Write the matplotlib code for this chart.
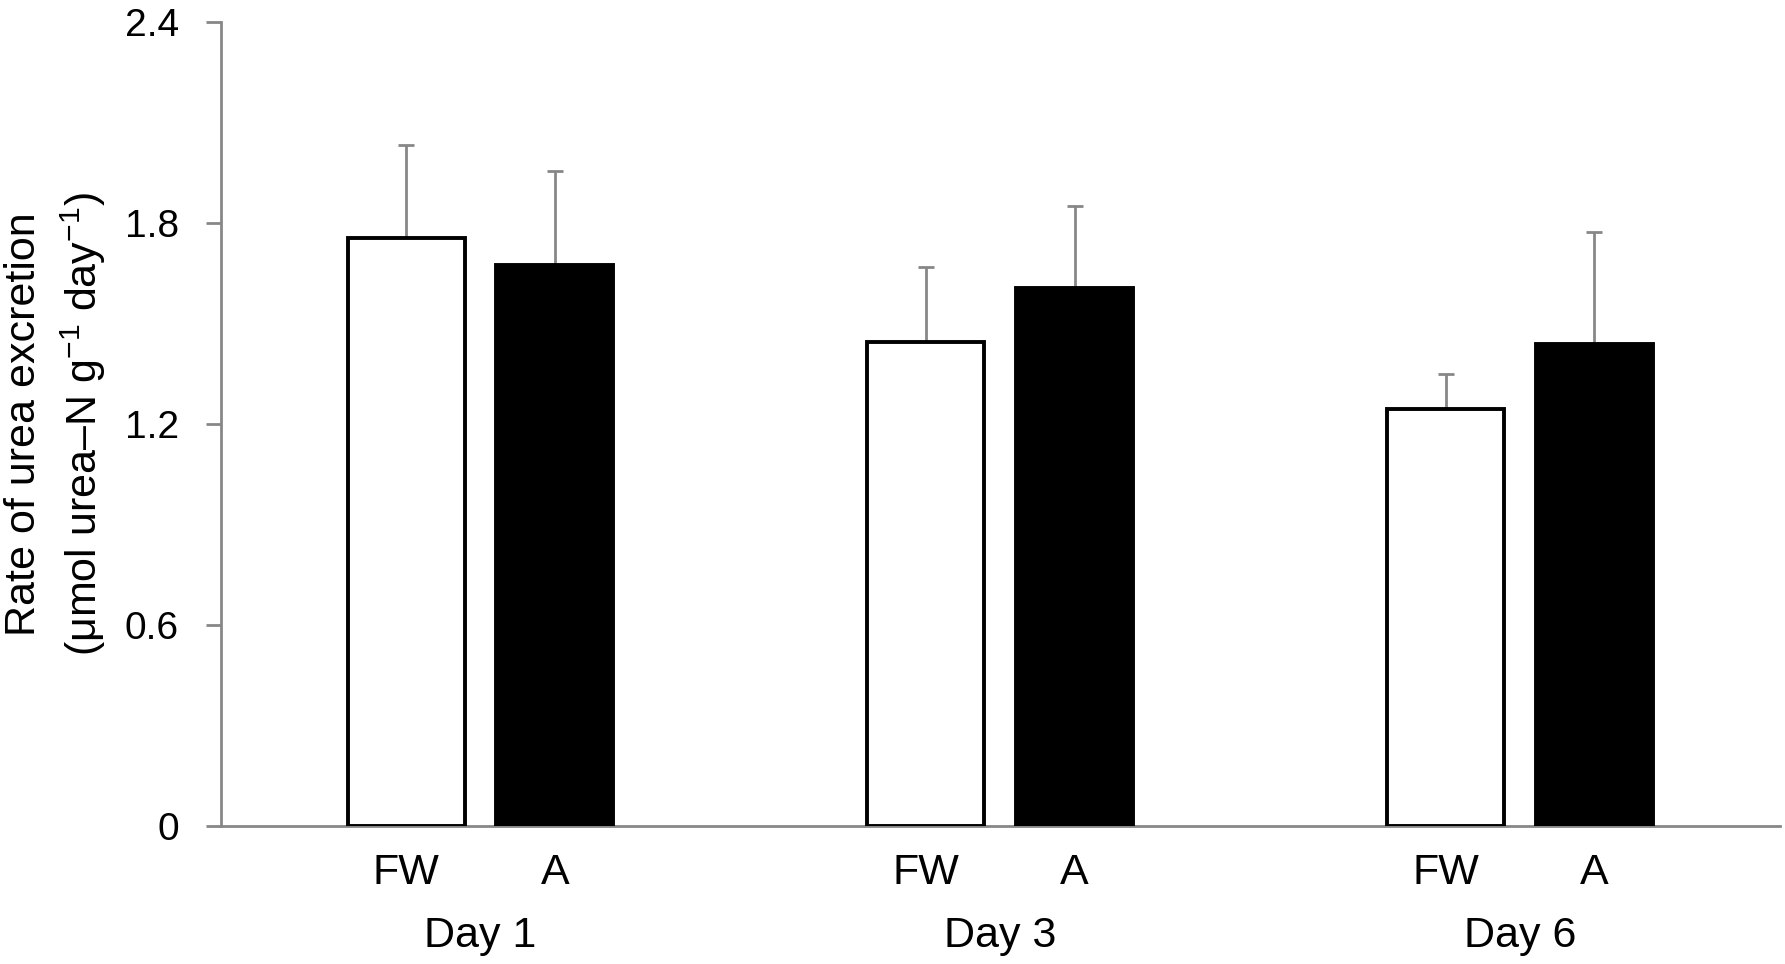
import matplotlib
matplotlib.use("Agg")
import matplotlib.pyplot as plt
from matplotlib.transforms import blended_transform_factory
import numpy as np

# ---- data ----
days = ["Day 1", "Day 3", "Day 6"]
groups = ["FW", "A"]
fw_mean = [1.755, 1.444, 1.245]
fw_err = [0.276, 0.223, 0.105]
a_mean = [1.673, 1.605, 1.439]
a_err = [0.282, 0.244, 0.333]
yticks = [0, 0.6, 1.2, 1.8, 2.4]
ytick_labels = ["0", "0.6", "1.2", "1.8", "2.4"]

plt.rcParams['mathtext.fontset'] = 'custom'
plt.rcParams['mathtext.rm'] = 'Liberation Sans'
plt.rcParams['mathtext.it'] = 'Liberation Sans'

fig = plt.figure(figsize=(17.85, 9.64), dpi=100)
ax = fig.add_axes([0.1236, 0.1432, 0.8735, 0.8343])

x = np.arange(len(days))
w = 0.225
off = 0.143
grey = "#878787"

ax.bar(x - off, fw_mean, width=w, color="white", edgecolor="black", linewidth=2.8, zorder=3)
ax.bar(x + off, a_mean, width=w, color="black", edgecolor="black", linewidth=2.8, zorder=3)
ax.errorbar(x - off, fw_mean, yerr=[np.zeros(3), fw_err], fmt="none", ecolor=grey,
            elinewidth=2.0, capsize=6, capthick=2.0, zorder=2)
ax.errorbar(x + off, a_mean, yerr=[np.zeros(3), a_err], fmt="none", ecolor=grey,
            elinewidth=2.0, capsize=6, capthick=2.0, zorder=2)

ax.set_xlim(-0.5, 2.5)
ax.set_ylim(0, 2.4)
for s in ["top", "right"]:
    ax.spines[s].set_visible(False)
for s in ["left", "bottom"]:
    ax.spines[s].set_color(grey)
    ax.spines[s].set_linewidth(2.0)

ax.set_yticks(yticks)
ax.set_yticklabels(ytick_labels, fontsize=28, family="Liberation Sans")
ax.tick_params(axis="y", length=11, width=2.0, color=grey, pad=19)

pos = []
labs = []
for i in range(len(days)):
    pos += [x[i] - off, x[i] + off]
    labs += groups
ax.set_xticks(pos)
ax.set_xticklabels(labs, fontsize=31, family="Liberation Sans")
ax.tick_params(axis="x", length=0, pad=19.5)

tr = blended_transform_factory(ax.transData, ax.transAxes)
for i, d in enumerate(days):
    ax.text(x[i], -0.1505, d, transform=tr, ha="center", va="baseline",
            fontsize=31, family="Liberation Sans")

fig.text(56 / 1785, 1 - 424 / 964,
         "Rate of urea excretion\n(μmol urea–N g$^{-1}$ day$^{-1}$)",
         rotation=90, ha="center", va="center", multialignment="center",
         fontsize=31, family="Liberation Sans", linespacing=1.38)

fig.savefig("out.png", dpi=100)
